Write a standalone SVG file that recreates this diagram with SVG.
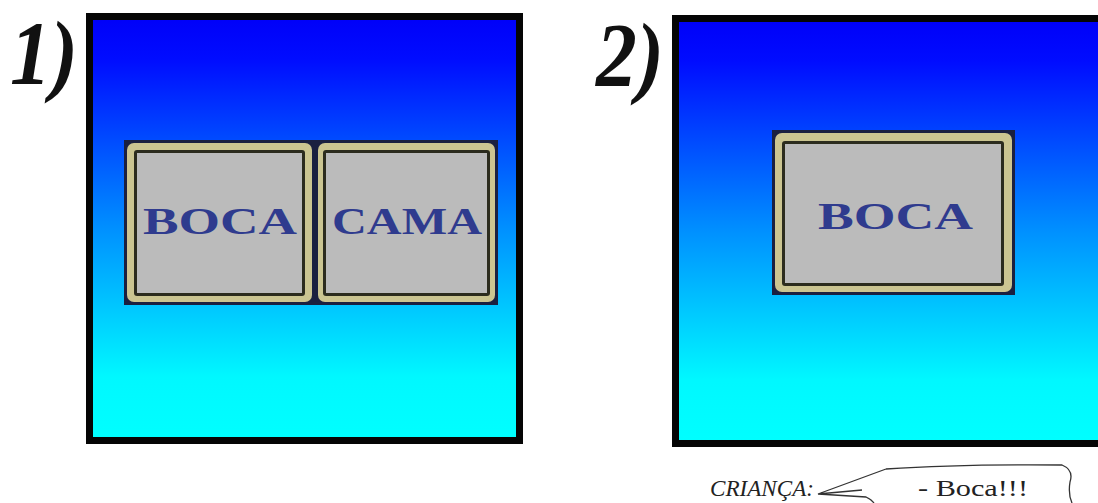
<svg xmlns="http://www.w3.org/2000/svg" width="1098" height="503" viewBox="0 0 1098 503">
<defs>
<linearGradient id="sky" x1="0" y1="0" x2="0" y2="1">
<stop offset="0" stop-color="#0000f8"/>
<stop offset="0.1" stop-color="#000cff"/>
<stop offset="0.5" stop-color="#0090ff"/>
<stop offset="0.85" stop-color="#00f8ff"/>
<stop offset="1" stop-color="#00ffff"/>
</linearGradient>
<style>
.panel{fill:url(#sky);stroke:#050505;stroke-width:7}
.outer{fill:#1a2040}
.frame{fill:#cbc591}
.line{fill:#2c2c1e}
.face{fill:#bbbbbb}
.word{font-family:"Liberation Serif",serif;font-weight:bold;font-size:38px;fill:#2f3b8e}
.num{font-family:"Liberation Serif",serif;font-weight:bold;font-style:italic;font-size:90px;fill:#111}
.cap{font-family:"Liberation Serif",serif;font-size:24px;fill:#222}
</style>
</defs>
<rect width="1098" height="503" fill="#ffffff"/>

<g id="panel1">
<rect class="panel" x="89.5" y="16.5" width="430" height="424"/>
<text class="num" x="10" y="84" textLength="68" lengthAdjust="spacingAndGlyphs">1)</text>
</g>
<g id="panel2">
<rect class="panel" x="675.5" y="18.5" width="432" height="425"/>
<text class="num" x="596" y="86" textLength="68" lengthAdjust="spacingAndGlyphs">2)</text>
</g>

<g id="card-boca-1">
<rect class="outer" x="124" y="140" width="191" height="165"/>
<rect class="frame" x="127" y="143" width="185" height="159" rx="7"/>
<rect class="line" x="134" y="150" width="171" height="146" rx="3"/>
<rect class="face" x="137" y="153" width="165" height="140"/>
<text class="word" x="143" y="234" textLength="154" lengthAdjust="spacingAndGlyphs">BOCA</text>
</g>
<g id="card-cama">
<rect class="outer" x="315" y="140" width="183" height="165"/>
<rect class="frame" x="318" y="143" width="177" height="159" rx="7"/>
<rect class="line" x="323" y="150" width="167" height="146" rx="3"/>
<rect class="face" x="326" y="153" width="161" height="140"/>
<text class="word" x="332" y="234" textLength="150" lengthAdjust="spacingAndGlyphs">CAMA</text>
</g>
<g id="card-boca-2">
<rect class="outer" x="772" y="130" width="243" height="165"/>
<rect class="frame" x="775" y="133" width="237" height="159" rx="7"/>
<rect class="line" x="782" y="141" width="222" height="145" rx="3"/>
<rect class="face" x="785" y="144" width="216" height="139"/>
<text class="word" x="818" y="229" textLength="155" lengthAdjust="spacingAndGlyphs">BOCA</text>
</g>

<g id="speech">
<text class="cap" x="710" y="496" font-style="italic" textLength="104" lengthAdjust="spacingAndGlyphs">CRIANÇA:</text>
<path d="M 886 469 Q 960 464 1062 465 Q 1074 470 1070 482 Q 1068 494 1072 503 M 886 469 L 818 494 L 862 490 M 818 494 L 866 497 Q 872 500 874 503" fill="none" stroke="#333" stroke-width="1.3"/>
<text class="cap" x="918" y="496" textLength="110" lengthAdjust="spacingAndGlyphs">- Boca!!!</text>
</g>
</svg>
